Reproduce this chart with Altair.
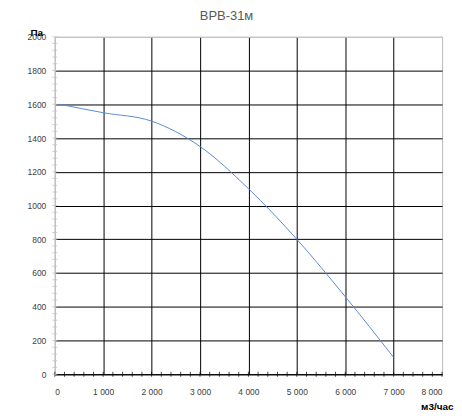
import altair as alt
import pandas as pd

# curve data (м3/час vs Па)
flow = [100, 1000, 2000, 3000, 4000, 5000, 6000, 7000]
pressure = [1600, 1550, 1500, 1350, 1100, 800, 460, 100]

x_labels = list(range(0, 8001, 1000))
y_labels = list(range(0, 2001, 200))
x_minor = list(range(0, 8001, 200))
y_minor = list(range(0, 2001, 40))

FONT = "Liberation Sans"
GRAY = "#bfbfbf"

df = pd.DataFrame({"flow": flow, "pressure": pressure})
dfx = pd.DataFrame({"t": x_minor})
dfy = pd.DataFrame({"t": y_minor})

xs = alt.Scale(domain=[0, 8000], nice=False, zero=False)
ys = alt.Scale(domain=[0, 2000], nice=False, zero=False)

x_axis = alt.Axis(
    values=x_labels,
    labelExpr="replace(format(datum.value, ','), ',', ' ')",
    grid=True,
    gridColor={"condition": {"test": "datum.value === 0 || datum.value === 8000", "value": GRAY}, "value": "black"},
    gridWidth=1,
    ticks=False,
    domainColor="black",
    labelFont=FONT, labelFontSize=8.5, labelColor="#404040", labelPadding=13,
    title="м3/час", titleFont=FONT, titleFontSize=10, titleFontWeight="bold", titleColor="black",
    titleAlign="right", titleBaseline="alphabetic", titleAnchor="end", titleX=400, titleY=35,
)
y_axis = alt.Axis(
    values=y_labels,
    format="d",
    grid=True,
    gridColor={"condition": {"test": "datum.value === 2000", "value": GRAY}, "value": "black"},
    gridWidth=1,
    ticks=False,
    domainColor=GRAY,
    labelFont=FONT, labelFontSize=8.5, labelColor="#404040", labelPadding=9,
    title="Па", titleFont=FONT, titleFontSize=10, titleFontWeight="bold", titleColor="black",
    titleAngle=0, titleAlign="left", titleBaseline="alphabetic", titleX=-25, titleY=-1,
)

line = alt.Chart(df).mark_line(color="#5b8ad6", strokeWidth=1, interpolate="monotone").encode(
    x=alt.X("flow:Q", scale=xs, axis=x_axis),
    y=alt.Y("pressure:Q", scale=ys, axis=y_axis),
)

xt = alt.Chart(dfx).mark_tick(orient="vertical", color="black", size=5, thickness=1).encode(
    x=alt.X("t:Q", scale=xs, axis=x_axis),
    y=alt.datum(0, scale=ys, axis=y_axis),
)
yt = alt.Chart(dfy).mark_tick(orient="horizontal", color=GRAY, size=5, thickness=1).encode(
    y=alt.Y("t:Q", scale=ys, axis=y_axis),
    x=alt.datum(0, scale=xs, axis=x_axis),
)

chart = alt.layer(line, xt, yt).properties(
    width=389, height=339,
    title=alt.TitleParams("BPB-31м", font=FONT, fontSize=13, color="#595959", fontWeight="normal",
                          anchor="middle", dx=-22, offset=5),
    autosize=alt.AutoSizeParams(type="none"),
    padding={"left": 47, "top": 28, "right": 12, "bottom": 36},
).configure_view(stroke=GRAY, strokeWidth=1)

chart.save("out.html", embed_options={"renderer": "svg", "actions": False})
